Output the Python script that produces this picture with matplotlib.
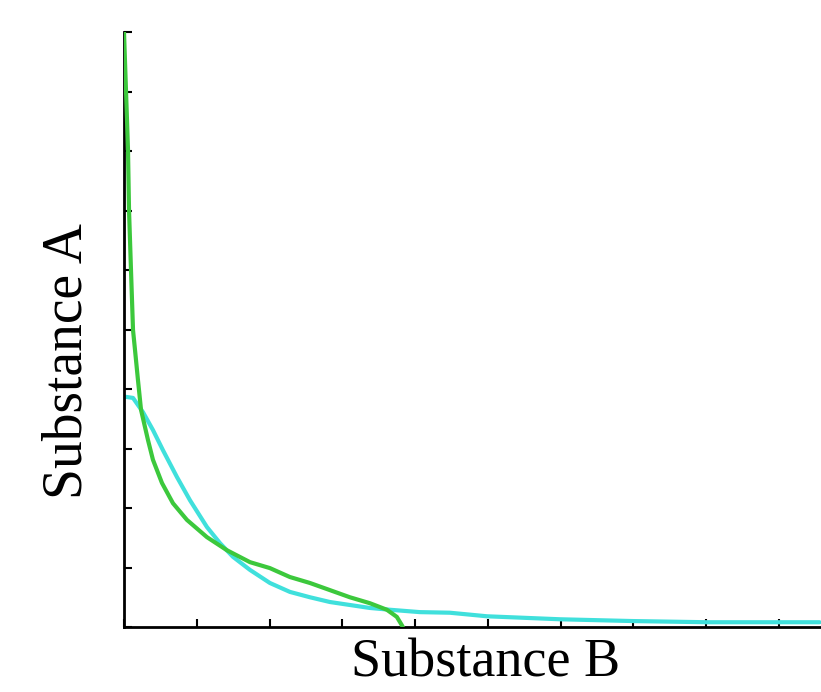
import matplotlib
matplotlib.use("Agg")
import matplotlib.pyplot as plt

green_x = [0, 0.027, 0.055, 0.069, 0.096, 0.124, 0.151, 0.192, 0.234, 0.330, 0.398, 0.522, 0.673,
           0.865, 1.140, 1.415, 1.731, 2.005, 2.280, 2.555, 2.830, 3.104, 3.379, 3.613, 3.750,
           3.819, 3.832]
green_y = [10, 9.03, 8.02, 7.01, 6.00, 4.99, 4.66, 4.15, 3.65, 3.14, 2.81, 2.42, 2.08,
           1.80, 1.51, 1.29, 1.09, 0.99, 0.84, 0.74, 0.62, 0.50, 0.40, 0.29, 0.17,
           0.03, 0]

cyan_x = [0.014, 0.124, 0.261, 0.398, 0.536, 0.728, 0.907, 1.140, 1.319, 1.497, 1.731, 2.005,
          2.280, 2.555, 2.830, 3.104, 3.379, 3.654, 4.066, 4.478, 4.99, 5.99, 6.99, 8.01, 9.56]
cyan_y = [3.87, 3.85, 3.61, 3.31, 2.97, 2.52, 2.13, 1.68, 1.41, 1.18, 0.96, 0.74,
          0.59, 0.50, 0.42, 0.37, 0.32, 0.29, 0.25, 0.24, 0.18, 0.13, 0.10, 0.08, 0.08]

x_ticks = list(range(0, 10))
y_ticks = list(range(0, 11))

fig = plt.figure(figsize=(8.21, 6.92), dpi=100)
ax = fig.add_axes([124/821, 65/692, 1 - 124/821, 595/692])

ax.plot(cyan_x, cyan_y, color="#40e0dc", lw=3, solid_capstyle="round",
        solid_joinstyle="round", zorder=2)
ax.plot(green_x, green_y, color="#3cc83c", lw=3, solid_capstyle="round",
        solid_joinstyle="round", zorder=3)

ax.set_xlim(0, 9.58)
ax.set_ylim(0, 10)
ax.set_xticks(x_ticks)
ax.set_yticks(y_ticks)
ax.set_xticklabels([])
ax.set_yticklabels([])
ax.tick_params(direction="in", length=6, width=1.5, color="black")
for s in ["top", "right"]:
    ax.spines[s].set_visible(False)
for s in ["left", "bottom"]:
    ax.spines[s].set_linewidth(2)
    ax.spines[s].set_color("black")

ax.set_xlabel("Substance B", family="Liberation Serif", fontsize=39)
ax.set_ylabel("Substance A", family="Liberation Serif", fontsize=40)
ax.xaxis.set_label_coords(0.519, -0.018)
ax.yaxis.set_label_coords(-0.044, 0.447)

fig.savefig("out.png", dpi=100)
